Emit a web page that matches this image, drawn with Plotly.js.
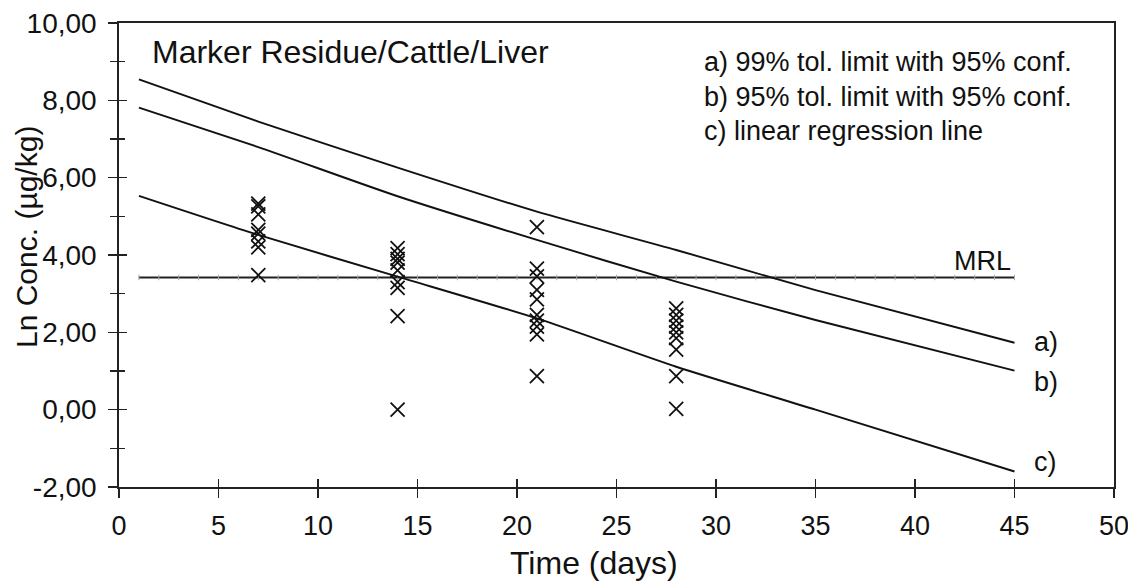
<!DOCTYPE html>
<html>
<head>
<meta charset="utf-8">
<script src="https://cdn.plot.ly/plotly-3.0.1.min.js"></script>
<style>html,body{margin:0;padding:0;background:#fff;}#chart{width:1128px;height:581px;}</style>
</head>
<body>
<div id="chart"></div>
<script>
// ---- data ----
const lineDays = [1, 7, 14, 21, 28, 35, 45];
const tol99 = [8.54, 7.45, 6.26, 5.12, 4.13, 3.09, 1.73];
const tol95 = [7.81, 6.79, 5.52, 4.39, 3.31, 2.32, 1.01];
const regression = [5.53, 4.52, 3.44, 2.36, 1.11, 0.0, -1.60];

const mrlValue = 3.42;
const mrlDays = [1,2,3,4,5,6,7,8,9,10,11,12,13,14,15,16,17,18,19,20,21,22,23,24,25,26,27,28,29,30,31,32,33,34,35,36,37,38,39,40,41,42,43,44,45];

const obsDays7 = [7, 7, 7, 7, 7, 7, 7, 7];
const obsConc7 = [5.33, 5.26, 5.05, 4.65, 4.55, 4.35, 4.2, 3.48];
const obsDays14 = [14, 14, 14, 14, 14, 14, 14, 14, 14];
const obsConc14 = [4.18, 4.02, 3.9, 3.8, 3.6, 3.3, 3.15, 2.42, 0.0];
const obsDays21 = [21, 21, 21, 21, 21, 21, 21, 21, 21, 21];
const obsConc21 = [4.72, 3.65, 3.45, 3.1, 2.85, 2.45, 2.3, 2.15, 1.95, 0.87];
const obsDays28 = [28, 28, 28, 28, 28, 28, 28, 28, 28];
const obsConc28 = [2.62, 2.45, 2.3, 2.15, 2.0, 1.85, 1.55, 0.87, 0.02];

const yTickVals = [-2, 0, 2, 4, 6, 8, 10];
const yTickText = ["-2,00", "0,00", "2,00", "4,00", "6,00", "8,00", "10,00"];
const xTickVals = [0, 5, 10, 15, 20, 25, 30, 35, 40, 45, 50];
const xTickText = ["0", "5", "10", "15", "20", "25", "30", "35", "40", "45", "50"];

const chartTitle = "Marker Residue/Cattle/Liver";
const legendLines = ["a) 99% tol. limit with 95% conf.", "b) 95% tol. limit with 95% conf.", "c) linear regression line"];
const lineLabels = ["a)", "b)", "c)"];
const mrlLabel = "MRL";
const xTitle = "Time (days)";
const yTitle = "Ln Conc. (µg/kg)";

// ---- chart ----
const FONT = "Liberation Sans, Arial, Helvetica, sans-serif";
const INK = "#111";
const PLOT_L = 119, PLOT_R = 1114, PLOT_T = 23, PLOT_B = 487;

const lineStyle = {color: INK, width: 1.9, shape: "spline", smoothing: 0.6};
const markerStyle = {symbol: "x-thin-open", size: 14, color: INK, line: {color: INK, width: 1.8}};

const obsX = [].concat(obsDays7, obsDays14, obsDays21, obsDays28);
const obsY = [].concat(obsConc7, obsConc14, obsConc21, obsConc28);

const traces = [
  {x: mrlDays, y: mrlDays.map(() => mrlValue), mode: "lines+markers", line: {color: "#222", width: 1.9},
   marker: {symbol: "line-ns-open", size: 4, color: "#aaa", line: {color: "#aaa", width: 1}}, hoverinfo: "skip"},
  {x: lineDays, y: tol99, mode: "lines", line: lineStyle, name: "a"},
  {x: lineDays, y: tol95, mode: "lines", line: lineStyle, name: "b"},
  {x: lineDays, y: regression, mode: "lines", line: lineStyle, name: "c"},
  {x: obsX, y: obsY, mode: "markers", marker: markerStyle, name: "obs"},
  {x: [], y: [], xaxis: "x2", yaxis: "y2", mode: "markers", hoverinfo: "skip"}
];

const annotations = [
  {text: chartTitle, x: 1.55, y: 9.25, xanchor: "left", yanchor: "middle", font: {size: 32, color: INK, family: FONT}},
  {text: mrlLabel, x: 43.4, y: 3.85, xanchor: "center", yanchor: "middle", font: {size: 27, color: INK, family: FONT}}
];
const legendY = [8.99, 8.09, 7.21];
legendLines.forEach((t, i) => annotations.push({text: t, x: 29.3, y: legendY[i], xanchor: "left", yanchor: "middle",
  font: {size: 27, color: INK, family: FONT}}));
const labelY = [1.75, 0.72, -1.35];
lineLabels.forEach((t, i) => annotations.push({text: t, x: 45.9, y: labelY[i], xanchor: "left", yanchor: "middle",
  font: {size: 27, color: INK, family: FONT}}));
annotations.forEach(a => { a.xref = "x"; a.yref = "y"; a.showarrow = false; });
// axis titles placed as annotations in paper space
const pw = PLOT_R - PLOT_L, ph = PLOT_B - PLOT_T;
annotations.push({text: xTitle, xref: "paper", yref: "paper", x: (594 - PLOT_L) / pw, y: (PLOT_B - 563) / ph,
  xanchor: "center", yanchor: "middle", showarrow: false, font: {size: 32, color: INK, family: FONT}});
annotations.push({text: yTitle, xref: "paper", yref: "paper", textangle: -90, x: (27 - PLOT_L) / pw, y: (PLOT_B - 237) / ph,
  xanchor: "center", yanchor: "middle", showarrow: false, font: {size: 30, color: INK, family: FONT}});

const layout = {
  width: 1128, height: 581,
  margin: {l: PLOT_L, r: 1128 - PLOT_R, t: PLOT_T, b: 581 - PLOT_B, pad: 0},
  paper_bgcolor: "#fff", plot_bgcolor: "#fff",
  showlegend: false,
  font: {family: FONT, color: INK, size: 27},
  xaxis: {range: [0, 50], tickvals: xTickVals, ticktext: xTickText, ticks: "outside", ticklen: 9, tickwidth: 1.4, tickcolor: "#222",
    showline: true, linecolor: "#222", linewidth: 1.7, mirror: true, showgrid: false, zeroline: false,
    tickfont: {size: 27, family: FONT, color: INK}, ticklabelstandoff: 5, ticklabeloverflow: "allow", automargin: false},
  yaxis: {range: [-2, 10], tickvals: yTickVals, ticktext: yTickText, ticks: "outside", ticklen: 9, tickwidth: 1.4, tickcolor: "#222",
    minor: {dtick: 1, tick0: 1, ticks: "outside", ticklen: 7, tickwidth: 1.4, tickcolor: "#222"},
    showline: true, linecolor: "#222", linewidth: 1.7, mirror: true, showgrid: false, zeroline: false,
    tickfont: {size: 28, family: FONT, color: INK}, ticklabelstandoff: 6, automargin: false},
  xaxis2: {overlaying: "x", range: [0, 50], tickvals: xTickVals, ticks: "inside", ticklen: 8, tickwidth: 1.4, tickcolor: "#222",
    showticklabels: false, showline: false, showgrid: false, zeroline: false},
  yaxis2: {overlaying: "y", range: [-2, 10], tickvals: yTickVals, ticks: "inside", ticklen: 8, tickwidth: 1.4, tickcolor: "#222",
    minor: {dtick: 1, tick0: 1, ticks: "inside", ticklen: 6, tickwidth: 1.4, tickcolor: "#222"},
    showticklabels: false, showline: false, showgrid: false, zeroline: false},
  annotations: annotations
};

Plotly.newPlot("chart", traces, layout, {displayModeBar: false, staticPlot: true});
</script>
</body>
</html>
